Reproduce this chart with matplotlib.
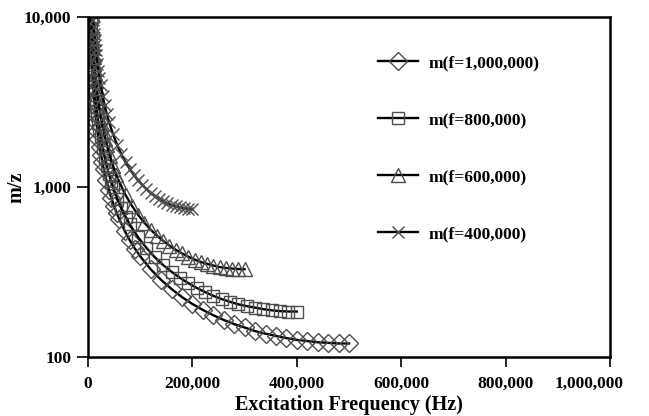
import numpy as np
import matplotlib.pyplot as plt
import matplotlib.transforms as mtransforms
from matplotlib.ticker import FixedLocator, FuncFormatter, NullLocator

plt.rcParams['font.family'] = ['Liberation Serif', 'DejaVu Serif']
plt.rcParams['font.weight'] = 'bold'

# excitation frequency (kHz) and m/z for each RF drive frequency
freq_1000k = [4, 5, 6, 7, 8, 9, 10, 12, 14, 16, 18, 20, 22.5, 25, 27.5, 30, 35, 40, 45, 50,
              55, 60, 70, 80, 90, 100, 120, 140, 160, 180, 200, 220, 240, 260, 280, 300,
              320, 340, 360, 380, 400, 420, 440, 460, 480, 500]
mz_1000k = [9640, 7700, 6420, 5508, 4812, 4284, 3852, 3210, 2752, 2408, 2141, 1926, 1712,
            1541, 1402, 1284, 1100, 964, 857, 773, 703, 645, 554, 486, 433, 391, 328, 284,
            251, 225, 205, 189, 176, 165, 156, 149, 142, 137, 133, 129, 126, 124, 122, 121,
            120, 120]

freq_800k = [4.8, 5.6, 6.4, 7.2, 8, 9.6, 11.2, 12.8, 14.4, 16, 18, 20, 22, 24, 28, 32, 36,
             40, 44, 48, 56, 64, 72, 80, 96, 112, 128, 144, 160, 176, 192, 208, 224, 240,
             256, 272, 288, 304, 320, 336, 352, 368, 384, 400]
mz_800k = [9900, 8492, 7419, 6601, 5939, 4949, 4242, 3713, 3300, 2969, 2640, 2375, 2161,
           1980, 1696, 1486, 1321, 1192, 1084, 995, 854, 749, 668, 603, 506, 438, 386, 347,
           317, 292, 272, 255, 241, 229, 219, 211, 204, 199, 195, 191, 188, 186, 185, 185]

freq_600k = [7.2, 8.4, 9.6, 10.8, 12, 13.5, 15, 16.5, 18, 21, 24, 27, 30, 33, 36, 42, 48, 54,
             60, 72, 84, 96, 108, 120, 132, 144, 156, 168, 180, 192, 204, 216, 228, 240, 252,
             264, 276, 288, 300]
mz_600k = [8774, 7521, 6583, 5852, 5264, 4681, 4212, 3831, 3510, 3008, 2634, 2341, 2114,
           1923, 1764, 1514, 1328, 1184, 1069, 897, 776, 685, 616, 561, 518, 482, 452, 427,
           407, 389, 374, 362, 353, 345, 338, 334, 331, 329, 328]

freq_400k = [10, 11, 12, 13, 14, 15, 16, 18, 20, 22, 24, 28, 32, 36, 40, 48, 56, 64, 72, 80,
             88, 96, 104, 112, 120, 128, 136, 144, 152, 160, 168, 176, 184, 192, 200]
mz_400k = [9566, 8702, 7972, 7360, 6832, 6382, 5982, 5318, 4801, 4367, 4007, 3439, 3017,
           2689, 2428, 2038, 1762, 1556, 1399, 1275, 1176, 1094, 1027, 971, 924, 884, 850,
           823, 801, 784, 769, 758, 751, 746, 745]

labels = ['m(f=1,000,000)', 'm(f=800,000)', 'm(f=600,000)', 'm(f=400,000)']
xticks = [0, 200000, 400000, 600000, 800000, 1000000]
yticks = [100, 1000, 10000]

fig = plt.figure(figsize=(6.49, 4.16), dpi=100)
ax = fig.add_axes([0.1356, 0.142, 0.8044, 0.817])

series = [(freq_1000k, mz_1000k, 'D', 9.5),
          (freq_800k, mz_800k, 's', 8.5),
          (freq_600k, mz_600k, '^', 9.5),
          (freq_400k, mz_400k, 'x', 9.0)]
for (fx, my, mk, ms), lab in zip(series, labels):
    ax.plot(np.array(fx) * 1000, my, color='black', lw=1.7, marker=mk, ms=ms,
            mfc='none', mec='#4d4d4d', mew=1.0, label=lab)

ax.set_yscale('log')
ax.set_xlim(0, 1000000)
ax.set_ylim(100, 10000)
ax.xaxis.set_major_locator(FixedLocator(xticks))
ax.yaxis.set_major_locator(FixedLocator(yticks))
ax.yaxis.set_minor_locator(NullLocator())
ax.xaxis.set_major_formatter(FuncFormatter(lambda v, p: '{:,.0f}'.format(v)))
ax.yaxis.set_major_formatter(FuncFormatter(lambda v, p: '{:,.0f}'.format(v)))
ax.tick_params(axis='y', direction='out', length=8, width=1.2, labelsize=12.5, pad=4)
ax.tick_params(axis='x', direction='out', length=7, width=1.2, labelsize=12.5, pad=7)
for s in ax.spines.values():
    s.set_linewidth(1.8)

# the last x label sits pulled in from the edge, as in the original
last = ax.get_xticklabels()[-1]
last.set_transform(last.get_transform() +
                   mtransforms.ScaledTranslation(-0.21, 0, fig.dpi_scale_trans))

ax.set_xlabel('Excitation Frequency (Hz)', fontsize=14.5, fontweight='bold')
ax.set_ylabel('m/z', fontsize=14.5, fontweight='bold')
ax.xaxis.set_label_coords(0.5, -0.112)
ax.yaxis.set_label_coords(-0.118, 0.5)

ax.legend(loc='upper left', bbox_to_anchor=(0.555, 0.888), frameon=False, fontsize=12.5,
          handlelength=2.3, labelspacing=2.35, borderaxespad=0, borderpad=0,
          handletextpad=0.6)

fig.savefig('out.png', dpi=100)
